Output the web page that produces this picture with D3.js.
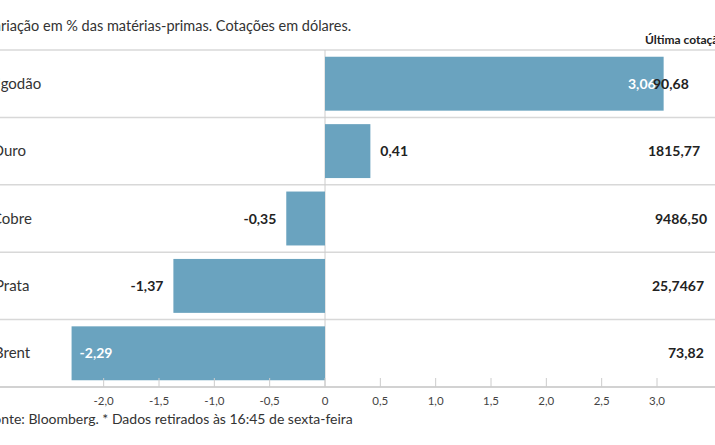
<!DOCTYPE html><html><head><meta charset="utf-8"><script src="https://cdn.jsdelivr.net/npm/d3@7"></script>
<style>body{margin:0;background:#fff}svg{font-family:Lato,"Open Sans",sans-serif}</style></head><body><svg width="715" height="445"></svg>
<script>
const categories=["Algodão","Ouro","Cobre","Prata","Brent"];
const changes=[3.06,0.41,-0.35,-1.37,-2.29];
const quotes=["90,68","1815,77","9486,50","25,7467","73,82"];
const ticks=[-2,-1.5,-1,-0.5,0,0.5,1,1.5,2,2.5,3];
const svg=d3.select("svg");
const x=d3.scaleLinear().domain([0,3]).range([325,657]);
const y=d3.scaleBand().domain(categories).range([50,387]).paddingInner(0.2).paddingOuter(0.1);
const fmt=v=>d3.format(".2f")(v).replace(".",",").replace("−","-");
svg.append("text").attr("x",-15).attr("y",31).attr("font-size",14.5).attr("fill","#333").text("Variação em % das matérias-primas. Cotações em dólares.");
svg.append("text").attr("x",645).attr("y",44).attr("font-size",12).attr("font-weight","bold").attr("fill","#222").text("Última cotação*");
const bounds=d3.range(6).map(i=>50+i*67.4);
svg.selectAll(".hl").data(bounds).join("line").attr("x1",0).attr("x2",715).attr("y1",d=>d).attr("y2",d=>d).attr("stroke","#d8d8d8").attr("stroke-width",1.5);
svg.append("line").attr("x1",x(0)).attr("x2",x(0)).attr("y1",50).attr("y2",387).attr("stroke","#ccc");
svg.selectAll(".bar").data(changes).join("rect").attr("x",d=>x(Math.min(0,d))).attr("width",d=>Math.abs(x(d)-x(0))).attr("y",(d,i)=>y(categories[i])).attr("height",y.bandwidth()).attr("fill","#6aa3bf");
svg.selectAll(".cat").data(categories).join("text").attr("x",(d,i)=>[-13,-8,-8,-5,-6][i]).attr("y",d=>y(d)+y.bandwidth()/2+5).attr("font-size",15).attr("fill","#333").text(d=>d);
svg.selectAll(".val").data(changes).join("text").attr("font-size",14).attr("font-weight","bold").attr("y",(d,i)=>y(categories[i])+y.bandwidth()/2+5)
 .each(function(d){const s=d3.select(this);const inside=Math.abs(d)>2;
  if(d>=0){s.attr("x",inside?x(d)-8:x(d)+10).attr("text-anchor",inside?"end":"start");}
  else{s.attr("x",inside?x(d)+8:x(d)-10).attr("text-anchor",inside?"start":"end");}
  s.attr("fill",inside?"#fff":"#222").text(fmt(d));});
svg.selectAll(".q").data(quotes).join("text").attr("x",(d,i)=>[653,648,655,652,668][i]).attr("y",(d,i)=>y(categories[i])+y.bandwidth()/2+5).attr("font-size",14).attr("font-weight","bold").attr("fill","#222").text(d=>d);
const ax=svg.append("g").attr("transform","translate(0,387)");
ax.append("line").attr("x1",0).attr("x2",715).attr("stroke","#ccc").attr("stroke-width",1.5);
ax.selectAll(".t").data(ticks).join("line").attr("x1",x).attr("x2",x).attr("y1",-9).attr("y2",0).attr("stroke","#ccc");
ax.selectAll(".tl").data(ticks).join("text").attr("x",x).attr("y",18).attr("text-anchor","middle").attr("font-size",11.5).attr("fill","#444").text(d=>d===0?"0":d3.format(".1f")(d).replace(".",",").replace("−","-"));
svg.append("text").attr("x",-14).attr("y",424).attr("font-size",14).attr("fill","#333").text("Fonte: Bloomberg.  * Dados retirados às 16:45 de sexta-feira");
</script></body></html>
